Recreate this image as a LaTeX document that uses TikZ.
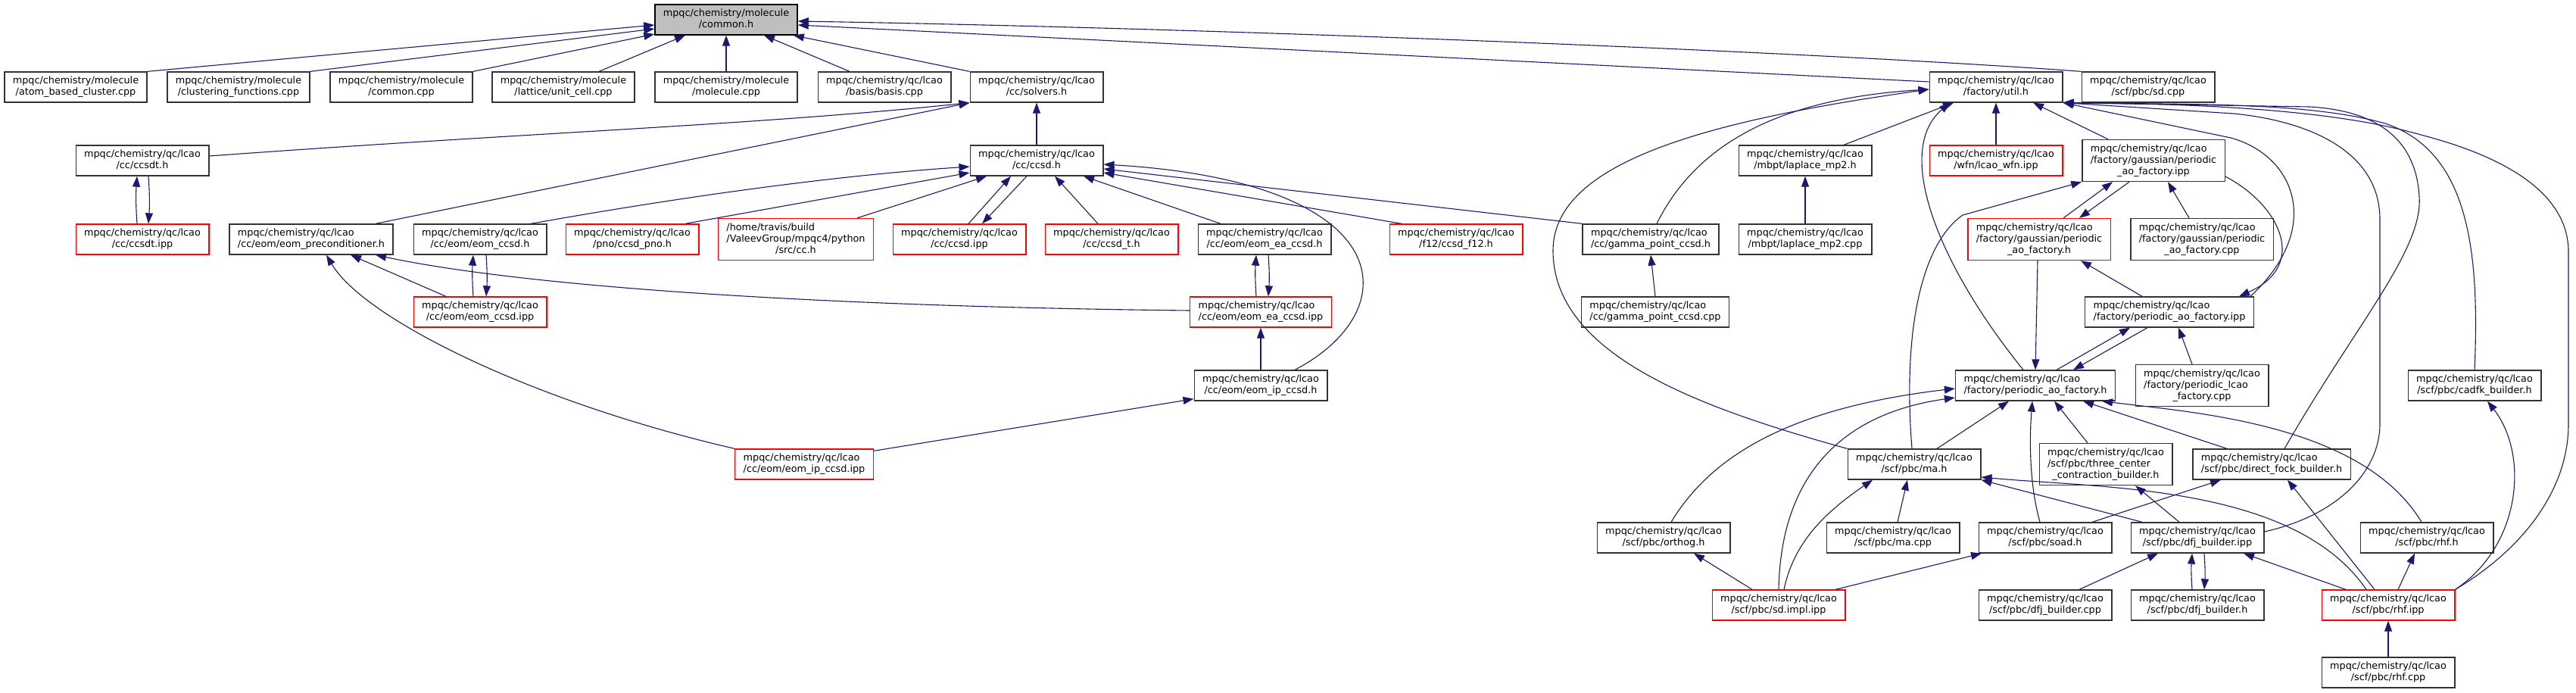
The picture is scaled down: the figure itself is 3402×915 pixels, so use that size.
\documentclass[tikz,border=0pt]{standalone}
\usepackage{fontspec}
\setmainfont{DejaVu Sans}
\usetikzlibrary{arrows.meta}
\definecolor{edgeblue}{HTML}{191970}
\definecolor{rootgray}{HTML}{BFBFBF}
\def\mol{mpqc/chemistry/molecule}
\def\lcao{mpqc/chemistry/qc/lcao}
\newcommand{\twol}[2]{\begin{tabular}{@{}l@{}}#1\\\multicolumn{1}{@{}c@{}}{#2}\end{tabular}}
\newcommand{\threel}[3]{\begin{tabular}{@{}l@{}}#1\\#2\\\multicolumn{1}{@{}c@{}}{#3}\end{tabular}}
\tikzset{filebox/.style={draw=black!80,line width=1.3pt,fill=white,inner xsep=11pt,inner ysep=5pt,font=\fontsize{12.8}{15}\selectfont}}
\tikzset{redbox/.style={filebox,draw=red}}
\tikzset{rootbox/.style={filebox,draw=black,fill=rootgray}}
\tikzset{inc/.style={->,draw=edgeblue,line width=1.1pt}}
\tikzset{>={Triangle[length=14pt,width=10pt]}}

\begin{document}
\begin{tikzpicture}[x=1pt,y=-1pt]
\useasboundingbox (0,0) rectangle (3402,915);

% files
\node[rootbox] (common) at (959,26) {\twol{\mol}{/common.h}};
\node[filebox] (atomcl) at (100,115) {\twol{\mol}{/atom\_based\_cluster.cpp}};
\node[filebox] (clustfn) at (315,115) {\twol{\mol}{/clustering\_functions.cpp}};
\node[filebox] (comcpp) at (530,115) {\twol{\mol}{/common.cpp}};
\node[filebox] (unitcell) at (744,115) {\twol{\mol}{/lattice/unit\_cell.cpp}};
\node[filebox] (molcpp) at (959,115) {\twol{\mol}{/molecule.cpp}};
\node[filebox] (basis) at (1168,115) {\twol{\lcao}{/basis/basis.cpp}};
\node[filebox] (solvers) at (1369,115) {\twol{\lcao}{/cc/solvers.h}};
\node[filebox] (util) at (2636,115) {\twol{\lcao}{/factory/util.h}};
\node[filebox] (sdcpp) at (2837,115) {\twol{\lcao}{/scf/pbc/sd.cpp}};

\node[filebox] (ccsdt) at (188,212) {\twol{\lcao}{/cc/ccsdt.h}};
\node[filebox] (ccsd) at (1369,212) {\twol{\lcao}{/cc/ccsd.h}};
\node[filebox] (lapmph) at (2384,212) {\twol{\lcao}{/mbpt/laplace\_mp2.h}};
\node[redbox] (wfn) at (2636,212) {\twol{\lcao}{/wfn/lcao\_wfn.ipp}};
\node[filebox] (gaoipp) at (2844,212) {\threel{\lcao}{/factory/gaussian/periodic}{\_ao\_factory.ipp}};

\node[redbox] (ccsdtipp) at (188,316) {\twol{\lcao}{/cc/ccsdt.ipp}};
\node[filebox] (eomprec) at (411,316) {\twol{\lcao}{/cc/eom/eom\_preconditioner.h}};
\node[filebox] (eomccsd) at (634,316) {\twol{\lcao}{/cc/eom/eom\_ccsd.h}};
\node[redbox] (pno) at (835,316) {\twol{\lcao}{/pno/ccsd\_pno.h}};
\node[redbox] (cch) at (1051,316) {\threel{/home/travis/build}{/ValeevGroup/mpqc4/python}{/src/cc.h}};
\node[redbox] (ccsdipp) at (1267,316) {\twol{\lcao}{/cc/ccsd.ipp}};
\node[redbox] (ccsdpt) at (1468,316) {\twol{\lcao}{/cc/ccsd\_t.h}};
\node[filebox] (eomea) at (1670,316) {\twol{\lcao}{/cc/eom/eom\_ea\_ccsd.h}};
\node[redbox] (f12) at (1923,316) {\twol{\lcao}{/f12/ccsd\_f12.h}};
\node[filebox] (gamma) at (2180,316) {\twol{\lcao}{/cc/gamma\_point\_ccsd.h}};
\node[filebox] (lapmpcpp) at (2384,316) {\twol{\lcao}{/mbpt/laplace\_mp2.cpp}};
\node[redbox] (gaoh) at (2693,316) {\threel{\lcao}{/factory/gaussian/periodic}{\_ao\_factory.h}};
\node[filebox] (gaocpp) at (2908,316) {\threel{\lcao}{/factory/gaussian/periodic}{\_ao\_factory.cpp}};

\node[redbox] (eomccsdipp) at (634,412) {\twol{\lcao}{/cc/eom/eom\_ccsd.ipp}};
\node[redbox] (eomeaipp) at (1665,412) {\twol{\lcao}{/cc/eom/eom\_ea\_ccsd.ipp}};
\node[filebox] (gammacpp) at (2186,412) {\twol{\lcao}{/cc/gamma\_point\_ccsd.cpp}};
\node[filebox] (paoipp) at (2865,412) {\twol{\lcao}{/factory/periodic\_ao\_factory.ipp}};

\node[filebox] (eomip) at (1665,509) {\twol{\lcao}{/cc/eom/eom\_ip\_ccsd.h}};
\node[filebox] (paoh) at (2688,509) {\twol{\lcao}{/factory/periodic\_ao\_factory.h}};
\node[filebox] (plcao) at (2908,509) {\threel{\lcao}{/factory/periodic\_lcao}{\_factory.cpp}};
\node[filebox] (cadfk) at (3268,509) {\twol{\lcao}{/scf/pbc/cadfk\_builder.h}};

\node[redbox] (eomipipp) at (1062,613) {\twol{\lcao}{/cc/eom/eom\_ip\_ccsd.ipp}};
\node[filebox] (mah) at (2528,613) {\twol{\lcao}{/scf/pbc/ma.h}};
\node[filebox] (threec) at (2781,613) {\threel{\lcao}{/scf/pbc/three\_center}{\_contraction\_builder.h}};
\node[filebox] (dfock) at (3000,613) {\twol{\lcao}{/scf/pbc/direct\_fock\_builder.h}};

\node[filebox] (orthog) at (2197,710) {\twol{\lcao}{/scf/pbc/orthog.h}};
\node[filebox] (macpp) at (2500,710) {\twol{\lcao}{/scf/pbc/ma.cpp}};
\node[filebox] (soad) at (2701,710) {\twol{\lcao}{/scf/pbc/soad.h}};
\node[filebox] (dfjipp) at (2902,710) {\twol{\lcao}{/scf/pbc/dfj\_builder.ipp}};
\node[filebox] (rhfh) at (3205,710) {\twol{\lcao}{/scf/pbc/rhf.h}};

\node[redbox] (sdimpl) at (2349,799) {\twol{\lcao}{/scf/pbc/sd.impl.ipp}};
\node[filebox] (dfjcpp) at (2701,799) {\twol{\lcao}{/scf/pbc/dfj\_builder.cpp}};
\node[filebox] (dfjh) at (2902,799) {\twol{\lcao}{/scf/pbc/dfj\_builder.h}};
\node[redbox] (rhfipp) at (3154,799) {\twol{\lcao}{/scf/pbc/rhf.ipp}};
\node[filebox] (rhfcpp) at (3154,888) {\twol{\lcao}{/scf/pbc/rhf.cpp}};

% includes, tip at the included file
\draw[inc] (atomcl.north east) -- ([yshift=-7pt]common.west);
\draw[inc] (clustfn.north east) -- ([yshift=-12pt]common.west);
\draw[inc] (comcpp.north east) -- ([yshift=-19pt]common.west);
\draw[inc] ([xshift=47pt]unitcell.north) -- ([xshift=-54pt]common.south);
\draw[inc] (molcpp.north) -- (common.south);
\draw[inc] ([xshift=-46pt]basis.north) -- ([xshift=50pt]common.south);
\draw[inc] (solvers.north west) -- ([xshift=-6pt]common.south east);
\draw[inc] ([yshift=7pt]util.west) -- ([yshift=-7pt]common.east);
\draw[inc] (sdcpp.north west) .. controls (2420,70) and (1650,38) .. ([yshift=-2pt]common.east);

\draw[inc] ([yshift=6pt]ccsdt.east) .. controls (700,175) and (1000,165) .. (solvers.south west);
\draw[inc] ([xshift=85pt]eomprec.north) -- (solvers.south west);
\draw[inc] (ccsd.north) -- (solvers.south);
\draw[inc] ([xshift=-7pt]ccsdtipp.north) to[bend left=4] ([xshift=-7pt]ccsdt.south);
\draw[inc] ([xshift=8pt]ccsdt.south) to[bend left=4] ([xshift=8pt]ccsdtipp.north);

\draw[inc] ([xshift=67pt]eomccsd.north) .. controls (900,260) and (1100,232) .. ([yshift=-8pt]ccsd.west);
\draw[inc] ([xshift=70pt]pno.north) -- ([yshift=-16pt]ccsd.west);
\draw[inc] ([xshift=81pt]cch.north) -- ([xshift=-66pt]ccsd.south);
\draw[inc] ([xshift=12pt]ccsdipp.north) -- ([xshift=-34pt]ccsd.south);
\draw[inc] ([xshift=-13pt]ccsd.south) -- ([xshift=30pt]ccsdipp.north);
\draw[inc] ([xshift=-18pt]ccsdpt.north) -- ([xshift=24pt]ccsd.south);
\draw[inc] ([xshift=-58pt]eomea.north) -- ([xshift=62pt]ccsd.south);
\draw[inc] ([xshift=-72pt]f12.north) -- ([yshift=-16pt]ccsd.east);
\draw[inc] (gamma.north west) -- ([yshift=-11pt]ccsd.east);
\draw[inc] ([xshift=45pt]eomip.north) .. controls (1860,410) and (1850,240) .. ([yshift=-5pt]ccsd.east);

\draw[inc] ([xshift=-45pt]eomccsdipp.north) -- ([xshift=52pt]eomprec.south);
\draw[inc] ([yshift=2pt]eomeaipp.west) .. controls (1100,405) and (700,380) .. ([xshift=85pt]eomprec.south);
\draw[inc] (eomipipp.north west) .. controls (700,530) and (480,420) .. ([xshift=20pt]eomprec.south);
\draw[inc] ([xshift=-9pt]eomccsdipp.north) to[bend left=4] ([xshift=-9pt]eomccsd.south);
\draw[inc] ([xshift=8pt]eomccsd.south) to[bend left=4] ([xshift=8pt]eomccsdipp.north);
\draw[inc] ([xshift=-6pt]eomeaipp.north) to[bend left=4] ([xshift=-11pt]eomea.south);
\draw[inc] ([xshift=5pt]eomea.south) to[bend left=4] ([xshift=10pt]eomeaipp.north);
\draw[inc] (eomip.north) -- (eomeaipp.south);
\draw[inc] ([yshift=-3pt]eomipipp.north east) -- ([yshift=3pt]eomip.south west);
\draw[inc] (gammacpp.north) -- (gamma.south);
\draw[inc] (lapmpcpp.north) -- (lapmph.south);

\draw[inc] ([xshift=8pt]gamma.north) .. controls (2240,190) and (2350,130) .. ([yshift=-3pt]util.west);
\draw[inc] (mah.north west) .. controls (2250,540) and (2050,470) .. (2051,330) .. controls (2052,215) and (2250,160) .. ([yshift=-3pt]util.west);
\draw[inc] ([xshift=51pt]lapmph.north) -- ([xshift=-56pt]util.south);
\draw[inc] ([xshift=-16pt]paoh.north) .. controls (2560,350) and (2500,200) .. ([xshift=-61pt]util.south);
\draw[inc] (wfn.north) -- (util.south);
\draw[inc] ([xshift=-60pt]gaoipp.north) -- ([xshift=49pt]util.south);
\draw[inc] ([xshift=107pt]paoipp.north) .. controls (3070,300) and (3030,205) .. (2946,182) -- (util.south east);
\draw[inc] ([xshift=17pt]dfock.north) .. controls (3110,430) and (3200,330) .. (3195,260) .. controls (3190,170) and (3120,145) .. (3050,141) -- (util.south east);
\draw[inc] ([yshift=8pt]dfjipp.east) .. controls (3090,680) and (3143,620) .. (3143,560) -- (3143,290) .. controls (3143,200) and (3050,160) .. (2950,150) -- (util.south east);
\draw[inc] (cadfk.north) .. controls (3275,330) and (3260,200) .. (3150,163) .. controls (3050,135) and (2900,138) .. (util.south east);
\draw[inc] (rhfipp.north east) .. controls (3340,720) and (3392,640) .. (3392,560) -- (3392,330) .. controls (3390,260) and (3320,210) .. (3197,178) .. controls (3100,150) and (2950,137) .. (util.south east);

\draw[inc] ([xshift=32pt]gaoh.north) -- ([xshift=-54pt]gaoipp.south);
\draw[inc] ([xshift=-32pt]gaoipp.south) -- ([xshift=53pt]gaoh.north);
\draw[inc] ([xshift=-17pt]gaocpp.north) -- ([xshift=19pt]gaoipp.south);
\draw[inc] ([xshift=-3pt]mah.north) .. controls (2512,430) and (2540,320) .. (2592,284) -- (gaoipp.south west);
\draw[inc] ([yshift=-21pt]gaoipp.east) .. controls (3010,270) and (3050,350) .. ([xshift=92pt]paoipp.north);
\draw[inc] ([xshift=-36pt]paoipp.north) -- ([xshift=55pt]gaoh.south);
\draw[inc] ([xshift=-2pt]gaoh.south) -- (paoh.north);
\draw[inc] ([xshift=28pt]paoh.north) -- ([xshift=-52pt]paoipp.south);
\draw[inc] ([xshift=-29pt]paoipp.south) -- ([xshift=50pt]paoh.north);
\draw[inc] ([xshift=-13pt]plcao.north) -- ([xshift=12pt]paoipp.south);

\draw[inc] ([xshift=10pt]orthog.north) .. controls (2255,610) and (2350,540) .. ([yshift=-4pt]paoh.west);
\draw[inc] (sdimpl.north) .. controls (2352,620) and (2440,545) .. ([yshift=-16pt]paoh.west);
\draw[inc] ([xshift=30pt]mah.north) -- ([xshift=-35pt]paoh.south);
\draw[inc] ([xshift=-7pt]soad.north) .. controls (2680,640) and (2680,580) .. ([xshift=-4pt]paoh.south);
\draw[inc] ([xshift=-24pt]threec.north) -- ([xshift=25pt]paoh.south);
\draw[inc] ([xshift=-59pt]dfock.north) -- ([xshift=63pt]paoh.south);
\draw[inc] ([xshift=-7pt]rhfh.north) .. controls (3120,560) and (2900,545) .. ([xshift=88pt]paoh.south);

\draw[inc] ([xshift=7pt]sdimpl.north) .. controls (2370,710) and (2420,670) .. ([xshift=-55pt]mah.south);
\draw[inc] ([xshift=6pt]macpp.north) -- ([xshift=-9pt]mah.south);
\draw[inc] ([xshift=-73pt]dfjipp.north) -- (mah.south east);
\draw[inc] ([xshift=-29pt]rhfipp.north) .. controls (3030,640) and (2780,645) .. ([yshift=-17pt]mah.east);
\draw[inc] ([xshift=-24pt]dfjipp.north) -- ([xshift=39pt]threec.south);
\draw[inc] ([xshift=62pt]soad.north) -- ([xshift=-67pt]dfock.south);
\draw[inc] ([xshift=-18pt]rhfipp.north) -- ([xshift=21pt]dfock.south);
\draw[inc] ([xshift=75pt]sdimpl.north) -- ([xshift=-84pt]soad.south);
\draw[inc] ([xshift=-35pt]sdimpl.north) -- ([xshift=40pt]orthog.south);

\draw[inc] ([xshift=45pt]dfjcpp.north) -- ([xshift=-52pt]dfjipp.south);
\draw[inc] ([xshift=-7pt]dfjh.north) to[bend left=4] ([xshift=-7pt]dfjipp.south);
\draw[inc] ([xshift=9pt]dfjipp.south) to[bend left=4] ([xshift=9pt]dfjh.north);
\draw[inc] ([xshift=-56pt]rhfipp.north) -- ([xshift=61pt]dfjipp.south);
\draw[inc] ([xshift=13pt]rhfipp.north) -- ([xshift=-16pt]rhfh.south);
\draw[inc] (rhfipp.north east) .. controls (3330,720) and (3340,600) .. ([xshift=17pt]cadfk.south);
\draw[inc] (rhfcpp.north) -- (rhfipp.south);
\end{tikzpicture}
\end{document}
